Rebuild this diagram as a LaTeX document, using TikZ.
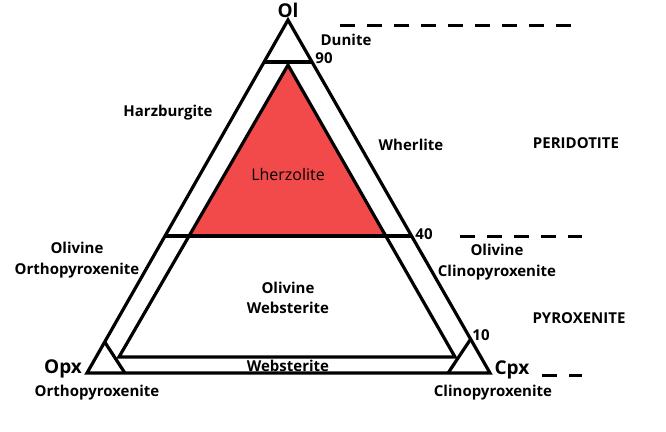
\documentclass[tikz,border=0pt]{standalone}
\usepackage{fontspec}
\setmainfont{Open Sans}
\usepackage{xcolor}
\usepackage{tikz}
\usetikzlibrary{calc}
\definecolor{lherzred}{HTML}{F24A4A}

\tikzset{
  edge/.style={line width=3.2pt, line join=miter},
  zone/.style={font=\bfseries\fontsize{15}{20.5}\selectfont, align=center, inner sep=0pt},
  apex/.style={font=\bfseries\fontsize{19}{22}\selectfont, inner sep=0pt},
  group/.style={line width=3pt, dash pattern=on 14.5pt off 12.5pt}
}

\begin{document}
\begin{tikzpicture}[x=1pt, y=-1pt]
  \useasboundingbox (0,0) rectangle (666,431);

  % corners of the ternary
  \coordinate (ol)  at (288,20);
  \coordinate (opx) at (87,373);
  \coordinate (cpx) at (490,373);

  % lherzolite / websterite field
  \coordinate (lz) at (288,65);
  \coordinate (wl) at (119,357);
  \coordinate (wr) at (455,357);

  \fill[lherzred] (lz) -- ($(lz)!0.5856!(wl)$) -- ($(lz)!0.5836!(wr)$) -- cycle;

  \draw[edge] (ol) -- (opx) -- (cpx) -- cycle;
  \draw[edge] ($(ol)!0.119!(opx)$) -- ($(ol)!0.119!(cpx)$);   % 90
  \draw[edge] ($(ol)!0.612!(opx)$) -- ($(ol)!0.612!(cpx)$);   % 40
  \draw[edge] ($(opx)!0.088!(ol)$) -- ($(opx)!0.094!(cpx)$);  % opx corner
  \draw[edge] ($(cpx)!0.096!(ol)$) -- ($(cpx)!0.104!(opx)$);  % cpx corner
  \draw[edge] (wl) -- (lz) -- (wr) -- cycle;

  % dashed group markers
  \coordinate (perA) at (340,25);  \coordinate (perB) at (572,25);
  \coordinate (midA) at (460,236); \coordinate (midB) at (582,236);
  \coordinate (pyrA) at (542,375); \coordinate (pyrB) at (582,375);
  \draw[group] (perA) -- (perB);
  \draw[group] (midA) -- (midB);
  \draw[group] (pyrA) -- (pyrB);

  % labels
  \node[apex] (olLbl)  at (288,10)  {Ol};
  \node[apex] (opxLbl) at (63,369)  {Opx};
  \node[apex] (cpxLbl) at (512,370) {Cpx};

  \node[zone] (dunite) at (346,40)  {Dunite};
  \node[zone] (n90)    at (324,58)  {90};
  \node[zone] (n40)    at (424,234) {40};
  \node[zone] (n10)    at (481,335) {10};
  \node[zone] (harz)   at (168,113) {Harzburgite};
  \node[zone] (wher)   at (411,145) {Wherlite};
  \node[zone] (perid)  at (576,143) {PERIDOTITE};
  \node[zone] (pyrox)  at (579,318) {PYROXENITE};
  \node[zone, font=\fontsize{16}{20}\selectfont] (lherz) at (288,174) {Lherzolite};
  \node[zone] (olopx)  at (77,260)  {Olivine\\Orthopyroxenite};
  \node[zone] (olcpx)  at (497,262) {Olivine\\Clinopyroxenite};
  \node[zone] (olweb)  at (288,298) {Olivine\\Websterite};
  \node[zone] (web)    at (288,366) {Websterite};
  \node[zone] (orthop) at (97,393)  {Orthopyroxenite};
  \node[zone] (clinop) at (493,393) {Clinopyroxenite};
\end{tikzpicture}
\end{document}
